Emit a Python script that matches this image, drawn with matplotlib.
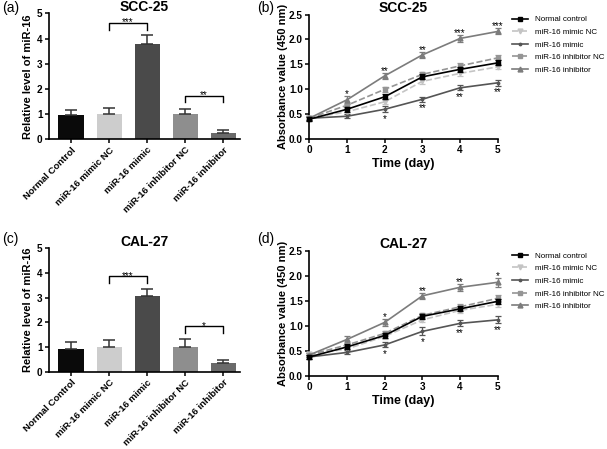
import numpy as np
import matplotlib
matplotlib.use('Agg')
import matplotlib.pyplot as plt
from matplotlib.lines import Line2D

plt.rcParams['font.family'] = ['Liberation Sans', 'DejaVu Sans']

# bar charts: relative miR-16 level
groups = ['Normal Control', 'miR-16 mimic NC', 'miR-16 mimic',
          'miR-16 inhibitor NC', 'miR-16 inhibitor']
bar_colors = ['#0a0a0a', '#cdcdcd', '#4a4a4a', '#8e8e8e', '#6a6a6a']

scc_bar = [0.97, 1.0, 3.80, 1.0, 0.25]
scc_bar_err = [0.20, 0.25, 0.35, 0.21, 0.11]
cal_bar = [0.93, 1.0, 3.07, 1.0, 0.35]
cal_bar_err = [0.26, 0.28, 0.28, 0.31, 0.12]

# brackets: (left bar, right bar, height, leg bottom, stars)
scc_brackets = [(1, 2, 4.62, 4.33, '***'), (3, 4, 1.72, 1.46, '**')]
cal_brackets = [(1, 2, 3.85, 3.58, '***'), (3, 4, 1.84, 1.56, '*')]

# line charts: absorbance over time
days = [0, 1, 2, 3, 4, 5]
series = ['Normal control', 'miR-16 mimic NC', 'miR-16 mimic',
          'miR-16 inhibitor NC', 'miR-16 inhibitor']
line_colors = ['#000000', '#c4c4c4', '#555555', '#959595', '#7c7c7c']
line_styles = ['-', '--', '-', '--', '-']
line_markers = ['s', 'v', '.', 's', '^']

scc_lines = [
    [0.40, 0.60, 0.85, 1.25, 1.40, 1.53],
    [0.42, 0.55, 0.75, 1.16, 1.32, 1.45],
    [0.42, 0.46, 0.60, 0.80, 1.03, 1.13],
    [0.42, 0.68, 1.00, 1.30, 1.47, 1.63],
    [0.42, 0.79, 1.27, 1.69, 2.02, 2.16],
]
scc_err = [
    [0.04, 0.05, 0.05, 0.05, 0.05, 0.05],
    [0.04, 0.05, 0.05, 0.06, 0.05, 0.05],
    [0.04, 0.04, 0.06, 0.05, 0.05, 0.06],
    [0.04, 0.05, 0.05, 0.05, 0.05, 0.05],
    [0.04, 0.08, 0.06, 0.06, 0.07, 0.06],
]
cal_lines = [
    [0.38, 0.58, 0.81, 1.19, 1.34, 1.49],
    [0.43, 0.54, 0.79, 1.12, 1.31, 1.43],
    [0.38, 0.47, 0.62, 0.89, 1.05, 1.12],
    [0.42, 0.62, 0.85, 1.21, 1.38, 1.55],
    [0.42, 0.73, 1.07, 1.60, 1.77, 1.87],
]
cal_err = [
    [0.04, 0.05, 0.05, 0.05, 0.05, 0.05],
    [0.04, 0.05, 0.05, 0.05, 0.05, 0.05],
    [0.04, 0.04, 0.05, 0.08, 0.06, 0.07],
    [0.04, 0.05, 0.05, 0.05, 0.05, 0.06],
    [0.04, 0.07, 0.07, 0.06, 0.07, 0.09],
]

# stars above the inhibitor line and below the mimic line
scc_top_stars = ['', '*', '**', '**', '***', '***']
scc_bot_stars = ['', '', '*', '**', '**', '**']
cal_top_stars = ['', '', '*', '**', '**', '*']
cal_bot_stars = ['', '', '*', '*', '**', '**']


def style_axes(ax, title):
    for s in ['top', 'right']:
        ax.spines[s].set_visible(False)
    for s in ['left', 'bottom']:
        ax.spines[s].set_linewidth(1.2)
    ax.tick_params(width=1.1, length=3, labelsize=7.2, pad=1.5)
    for lab in ax.get_xticklabels() + ax.get_yticklabels():
        lab.set_fontweight('bold')
    # title sits just above the axes, baseline a couple of pixels up
    ax.text(0.5, 1.02, title, transform=ax.transAxes, ha='center', va='baseline',
            fontsize=10, fontweight='bold')


def bar_panel(ax, vals, errs, brackets, title):
    x = np.arange(len(groups))
    ax.bar(x, vals, width=0.66, color=bar_colors, zorder=2)
    ax.errorbar(x, vals, yerr=[np.zeros(len(errs)), errs], fmt='none',
                ecolor='#333333', elinewidth=1.1, capsize=4, capthick=1.1, zorder=3)
    for i, j, h, low, stars in brackets:
        ax.plot([i, i, j, j], [low, h, h, low], color='black', lw=1.0, clip_on=False)
        ax.text((i + j) / 2, h - 0.1, stars, ha='center', va='baseline', fontsize=7)
    ax.set_xlim(-0.58, 4.45)
    ax.set_ylim(0, 5)
    ax.set_yticks([0, 1, 2, 3, 4, 5])
    ax.set_xticks(x)
    ax.set_xticklabels(groups, rotation=45, ha='right', rotation_mode='anchor')
    ax.set_ylabel('Relative level of miR-16', fontsize=8, fontweight='bold', labelpad=3)
    style_axes(ax, title)
    ax.tick_params(axis='x', labelsize=6.8)


def line_panel(ax, lines, errs, top_stars, bot_stars, title):
    for k in range(len(series)):
        ax.errorbar(days, lines[k], yerr=errs[k], color=line_colors[k], ls=line_styles[k],
                    lw=1.2, marker=line_markers[k], ms=3.5, capsize=2, elinewidth=0.9,
                    capthick=0.9, clip_on=False, zorder=3 + (k == 0))
    for d in days:
        if top_stars[d]:
            y = lines[4][d] + errs[4][d] - 0.02
            ax.text(d, y, top_stars[d], ha='center', va='baseline', fontsize=7)
        if bot_stars[d]:
            y = lines[2][d] - errs[2][d] - 0.03
            ax.text(d, y, bot_stars[d], ha='center', va='top', fontsize=7)
    ax.set_xlim(0, 5)
    ax.set_ylim(0, 2.5)
    ax.set_xticks(days)
    ax.set_yticks([0, 0.5, 1.0, 1.5, 2.0, 2.5])
    ax.set_yticklabels(['0.0', '0.5', '1.0', '1.5', '2.0', '2.5'])
    ax.set_xlabel('Time (day)', fontsize=9, fontweight='bold', labelpad=2)
    ax.set_ylabel('Absorbance value (450 nm)', fontsize=8, fontweight='bold', labelpad=1)
    style_axes(ax, title)
    handles = [Line2D([], [], color=line_colors[k], ls=line_styles[k], lw=1.2,
                      marker=line_markers[k], ms=3.5) for k in range(len(series))]
    ax.legend(handles, series, loc='upper left', bbox_to_anchor=(1.075, 0.99), frameon=False,
              fontsize=5.8, handlelength=2.0, labelspacing=0.62, borderaxespad=0,
              handletextpad=0.9, borderpad=0)


fig = plt.figure(figsize=(6.07, 4.49), dpi=100)
ax_a = fig.add_axes([0.0807, 0.690, 0.315, 0.280])
ax_b = fig.add_axes([0.5096, 0.690, 0.3104, 0.2777])
ax_c = fig.add_axes([0.0807, 0.172, 0.315, 0.2756])
ax_d = fig.add_axes([0.5096, 0.1626, 0.3104, 0.279])

bar_panel(ax_a, scc_bar, scc_bar_err, scc_brackets, 'SCC-25')
line_panel(ax_b, scc_lines, scc_err, scc_top_stars, scc_bot_stars, 'SCC-25')
bar_panel(ax_c, cal_bar, cal_bar_err, cal_brackets, 'CAL-27')
line_panel(ax_d, cal_lines, cal_err, cal_top_stars, cal_bot_stars, 'CAL-27')

# panel tags
fig.text(0.004, 0.997, '(a)', fontsize=10, va='top')
fig.text(0.424, 0.997, '(b)', fontsize=10, va='top')
fig.text(0.004, 0.483, '(c)', fontsize=10, va='top')
fig.text(0.424, 0.483, '(d)', fontsize=10, va='top')

fig.savefig('out.png', dpi=100)
